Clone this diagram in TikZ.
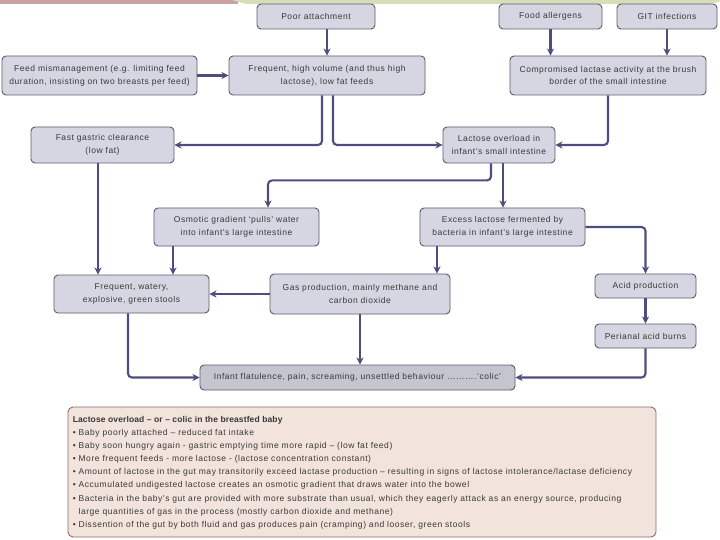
\documentclass[tikz,border=0pt]{standalone}
\usepackage{fontspec}
\setmainfont{Liberation Sans}[LetterSpace=6.4, BoldFeatures={LetterSpace=1.5}]
\usetikzlibrary{arrows.meta,calc}
\definecolor{boxfill}{HTML}{D6D6E2}
\definecolor{boxdraw}{HTML}{5A5A6E}
\definecolor{arrcol}{HTML}{4E4E7E}
\definecolor{txtcol}{HTML}{383838}
\definecolor{notefill}{HTML}{F2E4DC}
\definecolor{notedraw}{HTML}{8E6A66}
\definecolor{bandred}{HTML}{C9A2A2}
\definecolor{bandgreen}{HTML}{D6DDB8}
\tikzset{
  fbox/.style={draw=boxdraw, line width=0.9pt, fill=boxfill, rounded corners=4pt,
    inner sep=1pt, align=center, text=txtcol,
    font=\fontsize{8.5}{12.8}\selectfont},
  arr/.style={draw=arrcol, line width=2.1pt, rounded corners=4pt,
    -{Stealth[length=7pt,width=7pt,inset=2pt]}},
}
\begin{document}
\begin{tikzpicture}[x=1pt,y=-1pt]
\useasboundingbox (0,0) rectangle (720,540);
% top slide band
\fill[bandred] (0,0) rectangle (238,4);
\fill[bandgreen] (232,0) -- (712,0) .. controls (716,0) and (718,-1) .. (720,0) -- (720,1) .. controls (716,3) and (712,4) .. (706,4) -- (246,4) -- cycle;

% nodes
\node[fbox, minimum width=118pt, minimum height=25pt] (poor) at (316,16.5) {Poor attachment};
\node[fbox, minimum width=103pt, minimum height=25pt] (food) at (550.5,16.5) {Food allergens};
\node[fbox, minimum width=100pt, minimum height=25pt] (git) at (667,16.5) {GIT infections};
\node[fbox, minimum width=195pt, minimum height=39pt] (mis) at (99.5,75.5) {Feed mismanagement (e.g. limiting feed\\duration, insisting on two breasts per feed)};
\node[fbox, minimum width=196pt, minimum height=39pt] (freq) at (327,75.5) {Frequent, high volume (and thus high\\lactose), low fat feeds};
\node[fbox, minimum width=196pt, minimum height=39pt] (comp) at (608,75.5) {Compromised lactase activity at the brush\\border of the small intestine};
\node[fbox, minimum width=143pt, minimum height=36pt] (fast) at (102.5,145) {Fast gastric clearance\\(low fat)};
\node[fbox, minimum width=112pt, minimum height=36pt] (over) at (499,145) {Lactose overload in\\infant's small intestine};
\node[fbox, minimum width=165pt, minimum height=38pt] (osm) at (236.5,227) {Osmotic gradient `pulls' water\\into infant's large intestine};
\node[fbox, minimum width=165pt, minimum height=38pt] (exc) at (502.5,227) {Excess lactose fermented by\\bacteria in infant's large intestine};
\node[fbox, minimum width=155pt, minimum height=38pt] (wat) at (131.5,294) {Frequent, watery,\\explosive, green stools};
\node[fbox, minimum width=180pt, minimum height=40pt] (gas) at (360,294) {Gas production, mainly methane and\\carbon dioxide};
\node[fbox, minimum width=101pt, minimum height=24pt] (acid) at (645.5,286) {Acid production};
\node[fbox, minimum width=101pt, minimum height=24pt] (peri) at (645.5,336) {Perianal acid burns};
\node[fbox, fill=boxfill!92!black, minimum width=315pt, minimum height=25pt] (inf) at (357.5,377.5) {Infant flatulence, pain, screaming, unsettled behaviour ……….`colic'};

% arrows
\draw[arr] (freq.north |- poor.south) -- (freq.north);
\draw[arr] (food.south) -- (food.south |- comp.north);
\draw[arr] (git.south) -- (git.south |- comp.north);
\draw[arr] (mis.east) -- (freq.west);
\draw[arr] ([xshift=-5pt]freq.south) |- (fast.east);
\draw[arr] ([xshift=6pt]freq.south) |- (over.west);
\draw[arr] (comp.south) |- (over.east);
\draw[arr] ([xshift=-4.5pt]fast.south) -- ([xshift=-4.5pt]fast.south |- wat.north);
\draw[arr] ([xshift=-8pt]over.south) -- ++(0,17) -| ([xshift=31.5pt]osm.north);
\draw[arr] ([xshift=4pt]over.south) -- ([xshift=4pt]over.south |- exc.north);
\draw[arr] ([xshift=-63.5pt]osm.south) -- ([xshift=-63.5pt]osm.south |- wat.north);
\draw[arr] ([xshift=-65.5pt]exc.south) -- ([xshift=-65.5pt]exc.south |- gas.north);
\draw[arr] (exc.east) -| (acid.north);
\draw[arr] (acid.south) -- (peri.north);
\draw[arr] (gas.west) -- (wat.east);
\draw[arr] (gas.south) -- (gas.south |- inf.north);
\draw[arr] ([xshift=-3.5pt]wat.south) |- (inf.west);
\draw[arr] (peri.south) |- (inf.east);

% note box
\node[draw=notedraw, line width=0.9pt, fill=notefill, rounded corners=5pt,
  minimum width=588pt, minimum height=130pt] (note) at (362,472) {};
\node[anchor=north west, inner sep=0pt, align=left, text=txtcol,
  font=\fontsize{8.5}{13.1}\selectfont] (notetext) at ([xshift=5pt,yshift=-9.5pt]note.north west)
{\textbf{Lactose overload -- or -- colic in the breastfed baby}\\
• Baby poorly attached -- reduced fat intake\\
• Baby soon hungry again - gastric emptying time more rapid -- (low fat feed)\\
• More frequent feeds - more lactose - (lactose concentration constant)\\
• Amount of lactose in the gut may transitorily exceed lactase production -- resulting in signs of lactose intolerance/lactase deficiency\\
• Accumulated undigested lactose creates an osmotic gradient that draws water into the bowel\\
• Bacteria in the baby's gut are provided with more substrate than usual, which they eagerly attack as an energy source, producing\\
\hphantom{• }large quantities of gas in the process (mostly carbon dioxide and methane)\\
• Dissention of the gut by both fluid and gas produces pain (cramping) and looser, green stools};
\end{tikzpicture}
\end{document}
